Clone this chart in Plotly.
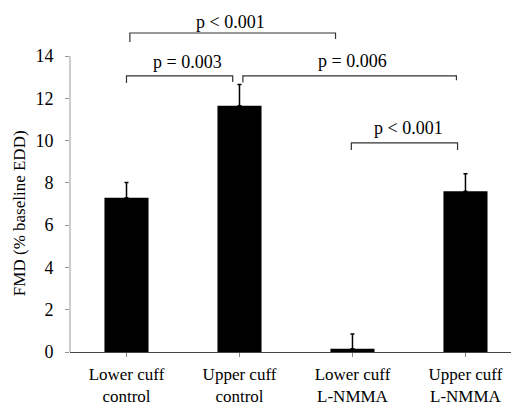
import plotly.graph_objects as go

categories = ["Lower cuff<br>control", "Upper cuff<br>control", "Lower cuff<br>L-NMMA", "Upper cuff<br>L-NMMA"]
fmd_values = [7.3, 11.65, 0.15, 7.6]
fmd_errors = [0.72, 1.0, 0.7, 0.83]
y_ticks = [0, 2, 4, 6, 8, 10, 12, 14]

# brackets: (x_left, x_right, y_bar, y_left_end, y_right_end, label, label_x, label_y)
brackets = [
    (0.03, 1.85, 15.09, 14.66, 14.8, "p < 0.001", 0.92, 15.6),
    (0.0, 0.94, 13.06, 12.72, 12.77, "p = 0.003", 0.54, 13.7),
    (1.03, 2.92, 13.06, 12.75, 12.85, "p = 0.006", 2.0, 13.75),
    (1.99, 2.93, 9.89, 9.56, 9.56, "p < 0.001", 2.5, 10.6),
]

x_idx = list(range(len(categories)))
FONT = "Liberation Serif"

fig = go.Figure()
fig.add_trace(go.Bar(
    x=x_idx, y=fmd_values, width=0.39,
    marker=dict(color="black", line=dict(width=0)),
    error_y=dict(type="data", symmetric=False, array=fmd_errors,
                 arrayminus=[0] * len(fmd_errors), color="black",
                 thickness=1.5, width=2),
    showlegend=False,
))

for (x0, x1, yb, yl, yr, label, lx, ly) in brackets:
    fig.add_shape(type="path",
                  path=f"M {x0} {yl} L {x0} {yb} L {x1} {yb} L {x1} {yr}",
                  xref="x", yref="y", line=dict(color="#333333", width=1.2))
    fig.add_annotation(x=lx, y=ly, xref="x", yref="y", text=label, showarrow=False,
                       font=dict(family=FONT, size=18, color="black"),
                       xanchor="center", yanchor="middle")

# y axis line only up to the top tick
fig.add_shape(type="line", xref="x domain", yref="y", x0=0, x1=0, y0=0, y1=max(y_ticks),
              line=dict(color="#aaaaaa", width=1.2))

fig.add_annotation(text="FMD (% baseline EDD)", xref="paper", yref="paper",
                   x=-0.113, y=0.395, textangle=-90, showarrow=False,
                   font=dict(family=FONT, size=17, color="black"),
                   xanchor="center", yanchor="middle")

fig.update_layout(
    width=511, height=405,
    margin=dict(l=70, r=0, t=0, b=53),
    paper_bgcolor="white", plot_bgcolor="white",
    font=dict(family=FONT, size=18, color="black"),
    bargap=0.6,
)
fig.update_xaxes(
    range=[-0.5, 3.403], tickvals=x_idx, ticktext=categories,
    tickson="boundaries", ticks="outside", ticklen=4, tickcolor="#888888",
    showline=True, linecolor="#444444", linewidth=1.2,
    showgrid=False, zeroline=False, automargin=False,
    tickfont=dict(family=FONT, size=17, color="black"),
    ticklabelstandoff=2,
)
fig.update_yaxes(
    range=[0, 16.65], tickvals=y_ticks, ticks="outside", ticklen=4,
    tickcolor="#999999", showline=False, showgrid=False, zeroline=False,
    automargin=False,
    tickfont=dict(family=FONT, size=18, color="black"),
    ticklabelstandoff=8,
)

fig.write_html("out.html")
